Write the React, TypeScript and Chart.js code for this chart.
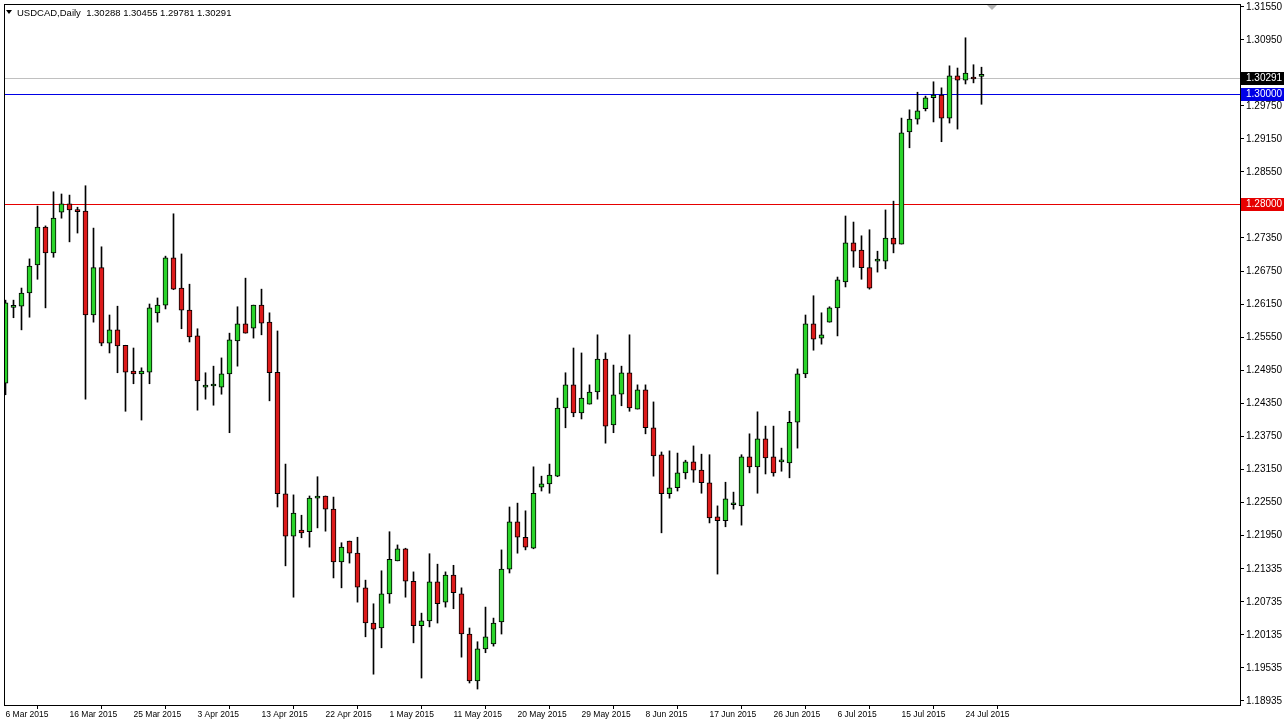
import React, { useEffect, useRef } from "react";
import { Chart, registerables } from "chart.js";
Chart.register(...registerables);

// ---- data (USDCAD daily) ----
const opens = [
  1.2471, 1.2609, 1.2611, 1.2635, 1.2686, 1.2755, 1.2708, 1.2782, 1.2797, 1.2784,
  1.2784, 1.2595, 1.2681, 1.2544, 1.2568, 1.254, 1.2493, 1.2488, 1.2491, 1.2599,
  1.2613, 1.2699, 1.2644, 1.2604, 1.2557, 1.2464, 1.2466, 1.2464, 1.2488, 1.2548,
  1.2579, 1.2571, 1.2613, 1.2582, 1.2491, 1.227, 1.2193, 1.2204, 1.2201, 1.2262,
  1.2266, 1.2242, 1.2146, 1.2184, 1.2162, 1.2099, 1.2035, 1.2026, 1.2088, 1.2148,
  1.217, 1.2111, 1.203, 1.2039, 1.211, 1.2073, 1.2122, 1.2088, 1.2015, 1.193,
  1.1988, 1.1997, 1.2037, 1.2133, 1.2219, 1.2191, 1.2171, 1.2282, 1.2288, 1.2302,
  1.2426, 1.2468, 1.2417, 1.2433, 1.2455, 1.2515, 1.2395, 1.2451, 1.249, 1.2424,
  1.2459, 1.239, 1.2341, 1.227, 1.2281, 1.2308, 1.2328, 1.2313, 1.229, 1.2228,
  1.2221, 1.225, 1.2248, 1.2337, 1.2319, 1.237, 1.2337, 1.2328, 1.2326, 1.24,
  1.2488, 1.2579, 1.2553, 1.2582, 1.2608, 1.2655, 1.2726, 1.2713, 1.2681, 1.2693,
  1.2693, 1.2735, 1.2724, 1.2928, 1.2951, 1.297, 1.299, 1.2995, 1.2953, 1.303,
  1.3022, 1.3025, 1.30288,
];
const highs = [
  1.2622, 1.2622, 1.2644, 1.2697, 1.2793, 1.2757, 1.2819, 1.2815, 1.2813, 1.2791,
  1.283, 1.2753, 1.2719, 1.2595, 1.2611, 1.254, 1.2535, 1.2499, 1.2615, 1.2626,
  1.2702, 1.2779, 1.2706, 1.2651, 1.257, 1.249, 1.2502, 1.2517, 1.2562, 1.261,
  1.2662, 1.2613, 1.2642, 1.2599, 1.2566, 1.2324, 1.2268, 1.2231, 1.2266, 1.2301,
  1.2266, 1.2264, 1.2181, 1.2184, 1.2191, 1.2113, 1.207, 1.213, 1.2201, 1.2177,
  1.2171, 1.2128, 1.2053, 1.2161, 1.2142, 1.2128, 1.214, 1.2099, 1.2026, 1.2001,
  1.2064, 1.2044, 1.2168, 1.2246, 1.2253, 1.2239, 1.2319, 1.2302, 1.2324, 1.2444,
  1.249, 1.2535, 1.2526, 1.2468, 1.2559, 1.2526, 1.2504, 1.2502, 1.2559, 1.2468,
  1.2468, 1.2437, 1.2346, 1.2348, 1.2344, 1.2331, 1.2357, 1.2342, 1.2341, 1.2248,
  1.2291, 1.2273, 1.2341, 1.2379, 1.2419, 1.2393, 1.2393, 1.2353, 1.242, 1.2497,
  1.2595, 1.263, 1.2599, 1.261, 1.2664, 1.2775, 1.2764, 1.2739, 1.275, 1.2711,
  1.2786, 1.2802, 1.2953, 1.2968, 1.3, 1.2993, 1.3019, 1.3008, 1.3048, 1.3044,
  1.3099, 1.305, 1.30455,
];
const lows = [
  1.245, 1.259, 1.2568, 1.2591, 1.266, 1.2608, 1.27, 1.2771, 1.2728, 1.2744,
  1.2442, 1.2582, 1.2539, 1.2526, 1.249, 1.242, 1.247, 1.2404, 1.247, 1.2582,
  1.2606, 1.2641, 1.257, 1.2546, 1.2422, 1.2442, 1.2431, 1.2451, 1.2381, 1.2502,
  1.2562, 1.2553, 1.2559, 1.2439, 1.2246, 1.2139, 1.2082, 1.219, 1.2173, 1.2208,
  1.2202, 1.2117, 1.2099, 1.2144, 1.2073, 1.201, 1.1942, 1.199, 1.2071, 1.2148,
  1.2082, 1.1999, 1.1935, 1.2028, 1.2035, 1.2064, 1.2061, 1.1973, 1.1926, 1.1915,
  1.1981, 1.1993, 1.2015, 1.2126, 1.2162, 1.2168, 1.217, 1.2275, 1.2271, 1.2301,
  1.239, 1.241, 1.2406, 1.2433, 1.2442, 1.2362, 1.2381, 1.243, 1.242, 1.2424,
  1.2379, 1.2302, 1.2199, 1.2262, 1.2275, 1.2297, 1.2291, 1.2271, 1.2217, 1.2124,
  1.221, 1.2242, 1.2213, 1.2308, 1.2271, 1.2306, 1.2302, 1.2311, 1.2299, 1.2353,
  1.2481, 1.2531, 1.2542, 1.2582, 1.2557, 1.2646, 1.2682, 1.266, 1.2642, 1.2673,
  1.2679, 1.2708, 1.2724, 1.2899, 1.2942, 1.2966, 1.2946, 1.291, 1.2944, 1.2933,
  1.3015, 1.3017, 1.29781,
];
const closes = [
  1.2617, 1.2611, 1.2635, 1.2684, 1.2755, 1.2708, 1.2771, 1.2797, 1.2786, 1.2783,
  1.2595, 1.2681, 1.2544, 1.2568, 1.2539, 1.2491, 1.2488, 1.2493, 1.2608, 1.2613,
  1.2699, 1.2642, 1.2604, 1.2555, 1.2475, 1.2466, 1.2466, 1.2488, 1.255, 1.2579,
  1.2562, 1.2613, 1.258, 1.249, 1.227, 1.2193, 1.2235, 1.2199, 1.2262, 1.2266,
  1.2242, 1.2146, 1.2173, 1.2162, 1.21, 1.2035, 1.2024, 1.2088, 1.2151, 1.217,
  1.2111, 1.203, 1.2039, 1.211, 1.207, 1.2122, 1.209, 1.2015, 1.193, 1.1988,
  1.201, 1.2035, 1.2133, 1.2219, 1.2191, 1.2173, 1.2271, 1.2288, 1.2304, 1.2426,
  1.2468, 1.2417, 1.2444, 1.2455, 1.2515, 1.2393, 1.245, 1.249, 1.2426, 1.2459,
  1.239, 1.2339, 1.227, 1.2281, 1.2308, 1.2328, 1.2313, 1.229, 1.2226, 1.2221,
  1.2261, 1.225, 1.2337, 1.2319, 1.237, 1.2335, 1.2308, 1.2328, 1.24, 1.2488,
  1.2579, 1.2551, 1.2559, 1.2608, 1.2659, 1.2726, 1.2711, 1.2681, 1.2644, 1.2693,
  1.2735, 1.2724, 1.2926, 1.2951, 1.2966, 1.299, 1.2995, 1.2953, 1.303, 1.3022,
  1.3035, 1.3024, 1.30291,
];

const dateLabels = [
  "6 Mar 2015", "16 Mar 2015", "25 Mar 2015", "3 Apr 2015", "13 Apr 2015",
  "22 Apr 2015", "1 May 2015", "11 May 2015", "20 May 2015", "29 May 2015",
  "8 Jun 2015", "17 Jun 2015", "26 Jun 2015", "6 Jul 2015", "15 Jul 2015", "24 Jul 2015",
];
const dateLabelBars = [0, 8, 16, 24, 32, 40, 48, 56, 64, 72, 80, 88, 96, 104, 112, 120];

const priceTicks = [
  1.3155, 1.3095, 1.2975, 1.2915, 1.2855, 1.2735, 1.2675, 1.2615, 1.2555, 1.2495,
  1.2435, 1.2375, 1.2315, 1.2255, 1.2195, 1.21335, 1.20735, 1.20135, 1.19535, 1.18935,
];

const levelValues = [1.30291, 1.3, 1.28];
const headerSymbol = "USDCAD,Daily";
const headerValues = ["1.30288", "1.30455", "1.29781", "1.30291"];

// ---- styles ----
const GREEN = "#2ad42a";
const RED = "#dc1a1a";
const levelLineColors = ["#c0c0c0", "#0000e6", "#e60000"];
const levelBoxColors = ["#000000", "#0000e6", "#e60000"];
const FONT = '"Liberation Sans", Arial, sans-serif';

const overlay = {
  id: "mt4overlay",
  beforeDatasetsDraw(chart: any) {
    const { ctx, chartArea: a, scales } = chart;
    const y = scales.y;
    ctx.save();
    levelValues.forEach((v, k) => {
      const py = Math.round(y.getPixelForValue(v)) + 2;
      ctx.fillStyle = levelLineColors[k];
      ctx.fillRect(a.left, py, a.right - a.left, 1);
    });
    ctx.restore();
  },
  afterDraw(chart: any) {
    const { ctx, chartArea: a, scales } = chart;
    const y = scales.y;
    ctx.save();
    // frame
    ctx.strokeStyle = "#000";
    ctx.lineWidth = 1;
    ctx.strokeRect(a.left + 0.5, a.top + 0.5, a.right - a.left, a.bottom - a.top);
    // level labels on price axis
    ctx.font = "10px " + FONT;
    ctx.textBaseline = "middle";
    ctx.textAlign = "left";
    levelValues.forEach((v, k) => {
      const py = Math.round(y.getPixelForValue(v)) + 2;
      ctx.fillStyle = levelBoxColors[k];
      ctx.fillRect(a.right + 1, py - 6, 43, 13);
      ctx.fillStyle = "#ffffff";
      ctx.fillText(v.toFixed(5), a.right + 6, py + 0.5);
    });
    // header
    ctx.fillStyle = "#000";
    ctx.beginPath();
    ctx.moveTo(a.left + 2, a.top + 6);
    ctx.lineTo(a.left + 8, a.top + 6);
    ctx.lineTo(a.left + 5, a.top + 10);
    ctx.closePath();
    ctx.fill();
    ctx.font = "9.5px " + FONT;
    ctx.fillText(headerSymbol + "  " + headerValues.join(" "), a.left + 13, a.top + 9);
    // chart shift marker
    ctx.fillStyle = "#b4b4b4";
    ctx.beginPath();
    ctx.moveTo(a.left + 983, a.top + 1);
    ctx.lineTo(a.left + 993, a.top + 1);
    ctx.lineTo(a.left + 988, a.top + 6);
    ctx.closePath();
    ctx.fill();
    ctx.restore();
  },
};

export default function App() {
  const ref = useRef<HTMLCanvasElement>(null);
  useEffect(() => {
    document.body.style.margin = "0";
    const canvas = ref.current!;
    const idx = opens.map((_, i) => i);
    const wickData = idx.map((i) => ({ x: i, y: [lows[i], highs[i]] }));
    const bodyData = idx.map((i) => ({ x: i, y: [opens[i], closes[i]] }));
    const bodyColors = idx.map((i) => (closes[i] >= opens[i] ? GREEN : RED));

    const chart = new Chart(canvas, {
      type: "bar",
      data: {
        datasets: [
          {
            label: "wick",
            data: wickData as any,
            backgroundColor: "#000",
            borderWidth: 0,
            barThickness: 1,
            grouped: false,
            order: 2,
          } as any,
          {
            label: "body",
            data: bodyData as any,
            backgroundColor: bodyColors,
            borderColor: "#000",
            borderWidth: 1,
            borderSkipped: false,
            barThickness: 5,
            minBarLength: 2,
            grouped: false,
            order: 1,
          } as any,
        ],
      },
      options: {
        animation: false,
        responsive: false,
        devicePixelRatio: 1,
        layout: { padding: { left: 4, top: 4, right: 0, bottom: 0 } },
        plugins: { legend: { display: false }, tooltip: { enabled: false } },
        scales: {
          x: {
            type: "linear",
            min: -0.1875,
            max: 154.3125,
            offset: false,
            grid: { display: true, drawOnChartArea: false, drawTicks: true, tickLength: 4, color: "#000" },
            border: { display: true, color: "#000" },
            ticks: {
              autoSkip: false,
              maxRotation: 0,
              align: "start",
              labelOffset: 0,
              padding: 1,
              color: "#000",
              font: { family: FONT, size: 8.5 },
              callback: (v: any) => {
                const k = dateLabelBars.indexOf(Number(v));
                return k >= 0 ? dateLabels[k] : "";
              },
            },
            afterBuildTicks: (s: any) => {
              s.ticks = dateLabelBars.map((v) => ({ value: v }));
            },
            afterFit: (s: any) => {
              s.height = 20;
              s.paddingLeft = 0;
              s.paddingRight = 0;
            },
          },
          y: {
            type: "linear",
            position: "right",
            min: 1.1886,
            max: 1.31604,
            grid: { display: true, drawOnChartArea: false, drawTicks: true, tickLength: 4, color: "#000" },
            border: { display: true, color: "#000" },
            ticks: {
              autoSkip: false,
              padding: 2,
              color: "#000",
              font: { family: FONT, size: 10 },
              callback: (v: any) => Number(v).toFixed(5),
            },
            afterBuildTicks: (s: any) => {
              s.ticks = priceTicks.map((v) => ({ value: v }));
            },
            afterFit: (s: any) => {
              s.width = 46;
              s.paddingTop = 0;
              s.paddingBottom = 0;
            },
          },
        },
      } as any,
      plugins: [overlay],
    });
    return () => chart.destroy();
  }, []);

  return (
    <div style={{ width: 1286, height: 725, background: "#fff" }}>
      <canvas ref={ref} width={1286} height={725} style={{ display: "block" }} />
    </div>
  );
}
